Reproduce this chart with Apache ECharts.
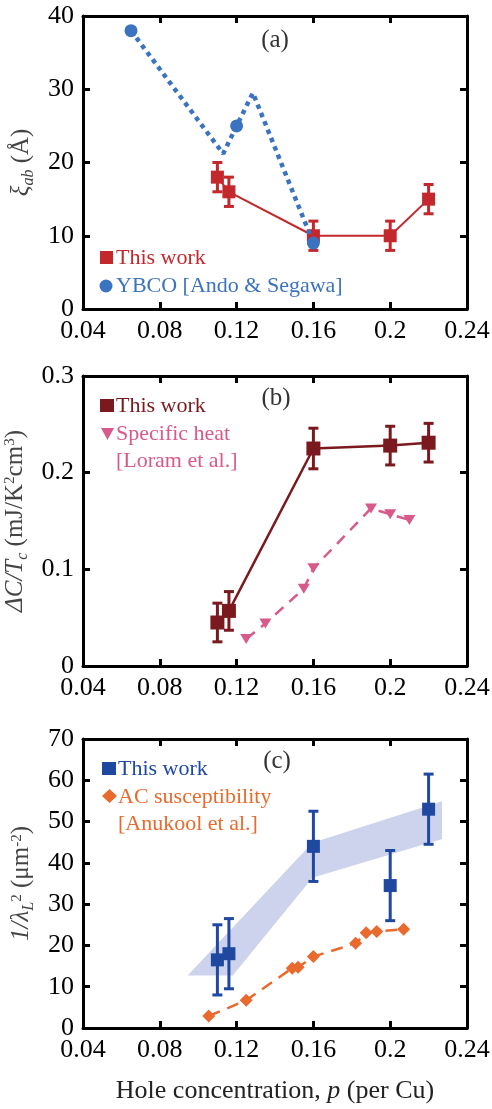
<!DOCTYPE html>
<html>
<head>
<meta charset="utf-8">
<script src="https://cdn.jsdelivr.net/npm/echarts@6/dist/echarts.min.js"></script>
<style>
html,body{margin:0;padding:0;background:#fff;}
#chart{width:492px;height:1109px;}
</style>
</head>
<body>
<div id="chart"></div>
<script>
// ---------- Data ----------
const xTicks = [0.04, 0.08, 0.12, 0.16, 0.2, 0.24];

// Panel (a): coherence length xi_ab (Å)
const aThisP = [0.110, 0.116, 0.16, 0.20, 0.22];
const aThisXi = [18, 16, 10, 10, 15];
const aThisErr = [2, 2, 2, 2, 2];
const aYbcoP = [0.065, 0.12, 0.16];
const aYbcoXi = [38, 25, 9];
const aYbcoPathP = [0.065, 0.113, 0.12, 0.1285, 0.16];
const aYbcoPathXi = [38, 21.2, 25, 29.5, 9];

// Panel (b): ΔC/Tc
const bThisP = [0.110, 0.116, 0.16, 0.20, 0.22];
const bThisC = [0.045, 0.057, 0.225, 0.228, 0.231];
const bThisErr = [0.02, 0.02, 0.021, 0.02, 0.02];
const bLoramP = [0.125, 0.135, 0.155, 0.16, 0.19, 0.20, 0.21];
const bLoramC = [0.028, 0.044, 0.080, 0.101, 0.163, 0.157, 0.151];

// Panel (c): 1/lambda_L^2
const cThisP = [0.110, 0.116, 0.16, 0.20, 0.22];
const cThisL = [16.5, 18, 44, 34.5, 53];
const cThisErr = [8.5, 8.5, 8.5, 8.5, 8.5];
const cAcP = [0.1055, 0.125, 0.149, 0.152, 0.16, 0.182, 0.1875, 0.193, 0.207];
const cAcL = [2.9, 6.7, 14.5, 14.7, 17.3, 20.5, 23.1, 23.4, 23.9];
const cBandP = [0.0945, 0.1595, 0.227, 0.227, 0.1595, 0.118];
const cBandL = [12.7, 44.9, 54.9, 45.8, 36.4, 12.7];

// ---------- Styles ----------
const FONT = 'Liberation Serif';
const RED = '#c3282d', BLUE_A = '#3b73c0';
const DRED = '#7a1a1e', PINK = '#d85a8a';
const BLUE_C = '#1f48a0', ORANGE = '#e86a2c', BAND = '#cdd3ec';

const chart = echarts.init(document.getElementById('chart'), null, {renderer: 'canvas'});

const richBase = {
  n:   {fontFamily: FONT, fontSize: 25, color: '#444', verticalAlign: 'top', lineHeight: 25},
  it:  {fontFamily: FONT, fontSize: 25, color: '#444', fontStyle: 'italic', verticalAlign: 'top', lineHeight: 25},
  sub: {fontFamily: FONT, fontSize: 16, color: '#444', fontStyle: 'italic', verticalAlign: 'top', padding: [12, 0, 0, 0]},
  sup: {fontFamily: FONT, fontSize: 15, color: '#444', verticalAlign: 'top'}
};

function xAxes(gi, withName) {
  const common = {
    gridIndex: gi, type: 'value', min: 0.04, max: 0.24, interval: 0.04,
    axisLine: {show: true, onZero: false, lineStyle: {color: '#000', width: 3}},
    axisTick: {show: true, inside: true, length: 7, lineStyle: {color: '#000', width: 3}},
    splitLine: {show: false}, minorTick: {show: false}
  };
  const bottom = Object.assign({}, common, {
    position: 'bottom',
    axisLabel: {show: true, fontFamily: FONT, fontSize: 26, color: '#000', margin: 9,
      formatter: v => { const t = xTicks.find(k => Math.abs(k - v) < 1e-9); return t === undefined ? '' : String(t); }}
  });
  if (withName) {
    bottom.name = 'Hole concentration, {it|p} (per Cu)';
    bottom.nameLocation = 'middle';
    bottom.nameGap = 50;
    bottom.nameTextStyle = {fontFamily: FONT, fontSize: 26, color: '#222',
      rich: {it: {fontFamily: FONT, fontSize: 26, color: '#222', fontStyle: 'italic'}}};
  }
  const top = Object.assign({}, common, {position: 'top', axisLabel: {show: false}});
  return [bottom, top];
}

function yAxes(gi, max, interval, name, gap) {
  const common = {
    gridIndex: gi, type: 'value', min: 0, max: max, interval: interval,
    axisLine: {show: true, onZero: false, lineStyle: {color: '#000', width: 3}},
    axisTick: {show: true, inside: true, length: 7, lineStyle: {color: '#000', width: 3}},
    splitLine: {show: false}, minorTick: {show: false}
  };
  const left = Object.assign({}, common, {
    position: 'left',
    axisLabel: {show: true, fontFamily: FONT, fontSize: 26, color: '#000', margin: 9},
    name: name, nameLocation: 'middle', nameGap: gap, nameRotate: 90,
    nameTextStyle: {fontFamily: FONT, fontSize: 25, color: '#444', rich: richBase}
  });
  const right = Object.assign({}, common, {position: 'right', axisLabel: {show: false}});
  return [left, right];
}

function pairs(P, V) { return P.map((p, i) => [p, V[i]]); }

function errSeries(gi, P, V, E, color) {
  return {
    type: 'custom', xAxisIndex: 2 * gi, yAxisIndex: 2 * gi, z: 3,
    data: P.map((p, i) => [p, V[i] - E[i], V[i] + E[i]]),
    encode: {x: 0, y: [1, 2]},
    renderItem: (params, api) => {
      const lo = api.coord([api.value(0), api.value(1)]);
      const hi = api.coord([api.value(0), api.value(2)]);
      const w = 5;
      const st = {stroke: color, lineWidth: 3};
      return {type: 'group', children: [
        {type: 'line', shape: {x1: lo[0], y1: lo[1], x2: hi[0], y2: hi[1]}, style: st},
        {type: 'line', shape: {x1: lo[0] - w, y1: lo[1], x2: lo[0] + w, y2: lo[1]}, style: st},
        {type: 'line', shape: {x1: hi[0] - w, y1: hi[1], x2: hi[0] + w, y2: hi[1]}, style: st}
      ]};
    }
  };
}

const series = [
  // ---- (a)
  {type: 'line', xAxisIndex: 0, yAxisIndex: 0, data: pairs(aThisP, aThisXi), z: 4,
   symbol: 'rect', symbolSize: 13, itemStyle: {color: RED, opacity: 1}, lineStyle: {color: RED, width: 2}},
  errSeries(0, aThisP, aThisXi, aThisErr, RED),
  {type: 'line', xAxisIndex: 0, yAxisIndex: 0, data: pairs(aYbcoPathP, aYbcoPathXi), z: 5,
   symbol: 'none', lineStyle: {color: BLUE_A, width: 4.5, type: [4.5, 4.5], cap: 'butt'}},
  {type: 'scatter', xAxisIndex: 0, yAxisIndex: 0, data: pairs(aYbcoP, aYbcoXi), z: 6,
   symbol: 'circle', symbolSize: 13, itemStyle: {color: BLUE_A, opacity: 1}},
  // ---- (b)
  {type: 'line', xAxisIndex: 2, yAxisIndex: 2, data: pairs(bLoramP, bLoramC), z: 4,
   symbol: 'triangle', symbolRotate: 180, symbolSize: [12, 10], itemStyle: {color: PINK, opacity: 1},
   lineStyle: {color: PINK, width: 2.5, type: [11, 8]}},
  {type: 'line', xAxisIndex: 2, yAxisIndex: 2, data: pairs(bThisP, bThisC), z: 4,
   symbol: 'rect', symbolSize: 14, itemStyle: {color: DRED, opacity: 1}, lineStyle: {color: DRED, width: 2.5}},
  errSeries(1, bThisP, bThisC, bThisErr, DRED),
  // ---- (c)
  {type: 'custom', xAxisIndex: 4, yAxisIndex: 4, z: 1,
   data: pairs(cBandP, cBandL), encode: {x: 0, y: 1},
   renderItem: (params, api) => {
     if (params.dataIndex !== 0) return null;
     const pts = cBandP.map((p, i) => api.coord([p, cBandL[i]]));
     return {type: 'polygon', shape: {points: pts}, style: {fill: BAND, opacity: 1}};
   }},
  {type: 'line', xAxisIndex: 4, yAxisIndex: 4, data: pairs(cAcP, cAcL), z: 4,
   symbol: 'diamond', symbolSize: [13, 13], itemStyle: {color: ORANGE, opacity: 1},
   lineStyle: {color: ORANGE, width: 2.5, type: [12, 8]}},
  errSeries(2, cThisP, cThisL, cThisErr, BLUE_C),
  {type: 'scatter', xAxisIndex: 4, yAxisIndex: 4, data: pairs(cThisP, cThisL), z: 5,
   symbol: 'rect', symbolSize: 13, itemStyle: {color: BLUE_C, opacity: 1}}
];

function legendText(x, y, text, color) {
  return {type: 'text', x: x, y: y, z: 100,
    style: {text: text, fill: color, font: '22px "Liberation Serif"', verticalAlign: 'middle', align: 'left'}};
}
function panelLabel(x, y, text) {
  return {type: 'text', x: x, y: y, z: 100,
    style: {text: text, fill: '#333', font: '25px "Liberation Serif"', verticalAlign: 'middle', align: 'center'}};
}

const graphic = [
  panelLabel(275, 40, '(a)'),
  panelLabel(276, 398, '(b)'),
  panelLabel(277, 761, '(c)'),
  // (a) legend
  {type: 'rect', shape: {x: 100, y: 251, width: 13, height: 13}, style: {fill: RED}, z: 100},
  legendText(116, 258, 'This work', RED),
  {type: 'circle', shape: {cx: 106, cy: 286, r: 6.5}, style: {fill: BLUE_A}, z: 100},
  legendText(116, 286, 'YBCO [Ando & Segawa]', BLUE_A),
  // (b) legend
  {type: 'rect', shape: {x: 100, y: 399, width: 14, height: 13}, style: {fill: DRED}, z: 100},
  legendText(116, 406, 'This work', DRED),
  {type: 'polygon', shape: {points: [[101, 428], [114, 428], [107.5, 440]]}, style: {fill: PINK}, z: 100},
  legendText(116, 434, 'Specific heat', PINK),
  legendText(116, 461, '[Loram et al.]', PINK),
  // (c) legend
  {type: 'rect', shape: {x: 102, y: 762, width: 14, height: 13}, style: {fill: BLUE_C}, z: 100},
  legendText(118, 769, 'This work', BLUE_C),
  {type: 'polygon', shape: {points: [[102, 796], [109.5, 789], [117, 796], [109.5, 803]]}, style: {fill: ORANGE}, z: 100},
  legendText(118, 797, 'AC susceptibility', ORANGE),
  legendText(118, 824, '[Anukool et al.]', ORANGE)
];

const option = {
  animation: false,
  backgroundColor: '#fff',
  grid: [
    {left: 83, right: 25, top: 16, height: 293, outerBoundsMode: 'none'},
    {left: 83, right: 25, top: 376, height: 290, outerBoundsMode: 'none'},
    {left: 83, right: 25, top: 739, height: 289, outerBoundsMode: 'none'}
  ],
  xAxis: [...xAxes(0, false), ...xAxes(1, false), ...xAxes(2, true)],
  yAxis: [
    ...yAxes(0, 40, 10, '{it|ξ}{sub|ab}{n| (Å)}', 36),
    ...yAxes(1, 0.3, 0.1, '{it|ΔC/T}{sub|c}{n| (mJ/K}{sup|2}{n|cm}{sup|3}{n|)}', 40),
    ...yAxes(2, 70, 10, '{it|1/λ}{sub|L}{sup|2}{n| (μm}{sup|-2}{n|)}', 36)
  ],
  series: series,
  graphic: graphic
};
chart.setOption(option);
</script>
</body>
</html>
